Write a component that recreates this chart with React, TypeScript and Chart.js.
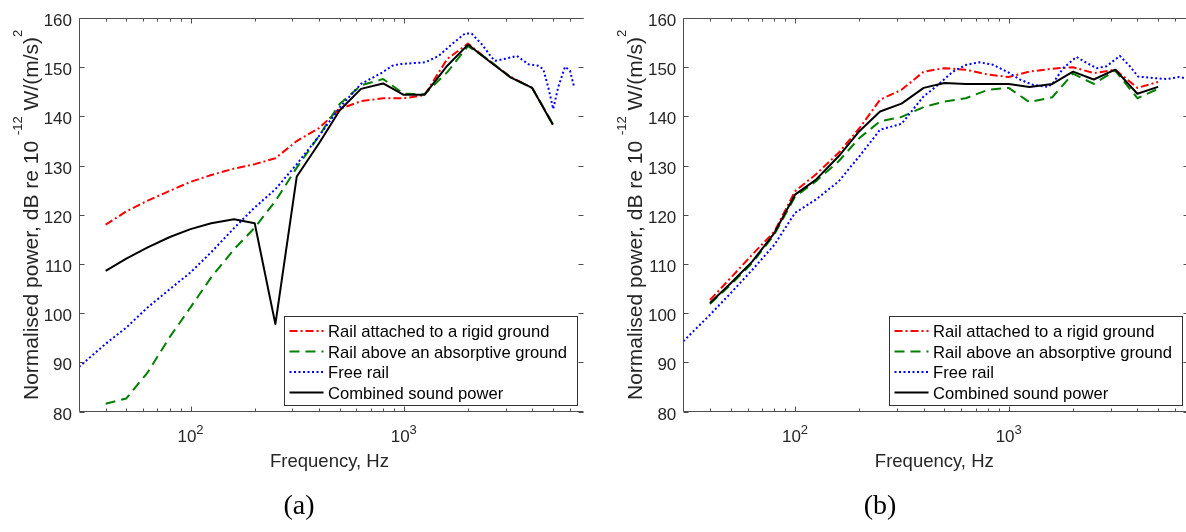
import React, { useEffect, useRef } from 'react';
import { Chart, registerables } from 'chart.js';

Chart.register(...registerables);

// ---------- data ----------
const bandFreqs = [40, 50, 63, 80, 100, 125, 160, 200, 250, 315, 400, 500, 630, 800, 1000, 1250, 1600, 2000, 2500, 3150, 4000, 5000];

// (a)
const rigidA = [118.0, 120.7, 122.9, 124.9, 126.7, 128.1, 129.4, 130.3, 131.5, 135.0, 137.6, 141.5, 143.1, 143.7, 143.7, 144.3, 151.7, 154.8, 151.4, 148.1, 145.8, 138.4];
const absorbA = [81.6, 82.7, 88.0, 95.2, 101.2, 107.3, 113.0, 117.4, 122.8, 129.6, 136.0, 142.5, 146.3, 147.6, 144.6, 144.5, 149.0, 154.3, 151.5, 148.0, 145.8, 138.5];
const combinedA = [108.6, 111.1, 113.4, 115.5, 117.1, 118.3, 119.1, 118.3, 97.8, 127.8, 134.5, 141.2, 145.6, 146.7, 144.4, 144.4, 150.3, 154.6, 151.3, 148.0, 145.8, 138.3];
const freeFreqA = [30, 40, 50, 63, 80, 100, 125, 160, 200, 250, 315, 400, 500, 630, 791, 882, 947, 1000, 1263, 1457, 1683, 1943, 2083, 2318, 2580, 2680, 2985, 3390, 3840, 4275, 4510, 4760, 5020, 5295, 5700, 6015, 6300];
const freeA = [89.1, 93.8, 97.1, 101.2, 104.9, 108.3, 112.4, 117.3, 121.5, 125.2, 130.3, 136.0, 141.8, 146.6, 148.9, 150.3, 150.6, 150.7, 151.0, 152.3, 154.7, 156.9, 156.8, 154.7, 152.0, 151.3, 151.7, 152.3, 150.6, 150.3, 149.6, 145.9, 141.5, 145.9, 150.1, 149.3, 145.9];

// (b)
const rigidB = [102.7, 107.2, 111.9, 116.6, 124.8, 128.2, 132.6, 137.6, 143.4, 145.4, 149.1, 149.8, 149.5, 148.5, 148.0, 149.1, 149.7, 150.0, 148.8, 149.5, 145.8, 147.0];
const absorbB = [101.9, 105.8, 110.2, 116.0, 123.7, 126.8, 130.9, 135.6, 139.0, 139.9, 141.9, 143.0, 143.7, 145.4, 145.8, 142.9, 143.9, 148.7, 146.6, 149.3, 143.7, 145.6];
const combinedB = [102.1, 106.1, 110.5, 116.3, 124.1, 127.1, 131.9, 137.0, 141.0, 142.6, 145.8, 146.8, 146.6, 146.6, 146.6, 146.0, 146.6, 149.1, 147.5, 149.5, 144.6, 146.0];
const freeFreqB = [30, 40, 50, 63, 80, 100, 125, 160, 200, 250, 315, 400, 458, 548, 634, 731, 844, 1000, 1127, 1301, 1529, 1613, 1798, 2076, 2312, 2576, 2870, 3313, 3689, 4036, 4750, 5487, 6280, 7000];
const freeB = [94.3, 99.7, 104.1, 108.8, 113.9, 120.4, 123.1, 126.8, 131.9, 137.3, 138.5, 144.1, 146.1, 149.1, 150.5, 151.0, 150.5, 148.9, 147.5, 146.4, 146.0, 146.8, 149.8, 152.1, 150.9, 149.8, 150.2, 152.3, 150.2, 148.1, 147.8, 147.6, 148.0, 147.6];

// axes
const X_MIN = 30;
const X_MAX = 7000;
const Y_MIN = 80;
const Y_MAX = 160;
const yTicks = [80, 90, 100, 110, 120, 130, 140, 150, 160];
const xMajorTicks = [100, 1000];
const xMajorExp = ['2', '3'];
const xMinorTicks = [40, 50, 60, 70, 80, 90, 200, 300, 400, 500, 600, 700, 800, 900, 2000, 3000, 4000, 5000, 6000, 7000];

const seriesLabels = ['Rail attached to a rigid ground', 'Rail above an absorptive ground', 'Free rail', 'Combined sound power'];
const seriesColors = ['#ff0000', '#008000', '#0000ff', '#000000'];
const seriesDash = [[8, 3, 2, 3], [10, 6], [2, 2.5], []];

const xTitle = 'Frequency, Hz';
const yTitleParts = [
  { t: 'Normalised power, dB re 10 ', sup: false },
  { t: '-12', sup: true },
  { t: ' W/(m/s)', sup: false },
  { t: '2', sup: true },
];

const SANS = '"Liberation Sans", Arial, Helvetica, sans-serif';
const AXIS_COLOR = '#4d4d4d';
const TEXT_COLOR = '#262626';

function pts(xs: number[], ys: number[]) {
  return xs.map((x, i) => ({ x, y: ys[i] }));
}

function drawRich(ctx: CanvasRenderingContext2D, parts: { t: string; size: number; dy: number }[], startX: number) {
  let x = startX;
  for (const p of parts) {
    ctx.font = `${p.size}px ${SANS}`;
    ctx.fillText(p.t, x, p.dy);
    x += ctx.measureText(p.t).width;
  }
}
function richWidth(ctx: CanvasRenderingContext2D, parts: { t: string; size: number; dy: number }[]) {
  let w = 0;
  for (const p of parts) {
    ctx.font = `${p.size}px ${SANS}`;
    w += ctx.measureText(p.t).width;
  }
  return w;
}

const matlabAxes = {
  id: 'matlabAxes',
  afterDatasetsDraw(chart: any) {
    const { ctx, chartArea: a } = chart;
    const xs = chart.scales.x;
    const ys = chart.scales.y;
    const L = Math.round(a.left) + 0.5;
    const R = Math.round(a.right) - 0.5;
    const T = Math.round(a.top) + 0.5;
    const B = Math.round(a.bottom) - 0.5;
    ctx.save();
    ctx.setLineDash([]);
    ctx.strokeStyle = AXIS_COLOR;
    ctx.lineWidth = 1;
    ctx.beginPath();
    ctx.moveTo(R, T);
    ctx.lineTo(L, T);
    ctx.lineTo(L, B);
    ctx.lineTo(R, B);
    for (const v of yTicks) {
      const py = Math.round(ys.getPixelForValue(v)) + 0.5;
      ctx.moveTo(L, py); ctx.lineTo(L + 5, py);
      ctx.moveTo(R, py); ctx.lineTo(R - 5, py);
    }
    for (const f of xMajorTicks) {
      const px = Math.round(xs.getPixelForValue(f)) + 0.5;
      ctx.moveTo(px, B); ctx.lineTo(px, B - 5);
      ctx.moveTo(px, T); ctx.lineTo(px, T + 5);
    }
    for (const f of xMinorTicks) {
      const px = Math.round(xs.getPixelForValue(f)) + 0.5;
      if (px > R) continue;
      ctx.moveTo(px, B); ctx.lineTo(px, B - 3);
      ctx.moveTo(px, T); ctx.lineTo(px, T + 3);
    }
    ctx.stroke();

    // y tick labels
    ctx.fillStyle = TEXT_COLOR;
    ctx.font = `17px ${SANS}`;
    ctx.textAlign = 'right';
    ctx.textBaseline = 'alphabetic';
    for (const v of yTicks) {
      const py = ys.getPixelForValue(v);
      ctx.fillText(String(v), a.left - 7, py + 8);
    }
    // x tick labels 10^n
    ctx.textAlign = 'left';
    xMajorTicks.forEach((f, i) => {
      const px = xs.getPixelForValue(f);
      const parts = [
        { t: '10', size: 17, dy: 0 },
        { t: xMajorExp[i], size: 13, dy: -8.5 },
      ];
      const w = richWidth(ctx, parts);
      ctx.save();
      ctx.translate(px - w / 2, a.bottom + 30.5);
      drawRich(ctx, parts, 0);
      ctx.restore();
    });
    // x title
    ctx.font = `18.5px ${SANS}`;
    ctx.textAlign = 'center';
    ctx.fillText(xTitle, (a.left + a.right) / 2 - 2, a.bottom + 55.5);
    // y title (rotated)
    ctx.textAlign = 'left';
    const yparts = yTitleParts.map((p) => ({ t: p.t, size: p.sup ? 13 : 21, dy: p.sup ? -16 : 0 }));
    const yw = richWidth(ctx, yparts);
    ctx.save();
    ctx.translate(a.left - 41.5, (a.top + a.bottom) / 2);
    ctx.rotate(-Math.PI / 2);
    drawRich(ctx, yparts, -yw / 2);
    ctx.restore();

    // legend box
    const lw = 293;
    const lh = 89;
    const lx = Math.round(a.right - 7 - lw) + 0.5;
    const ly = Math.round(a.bottom - 7 - lh) + 0.5;
    ctx.fillStyle = '#ffffff';
    ctx.fillRect(lx, ly, lw, lh);
    ctx.strokeStyle = '#333333';
    ctx.lineWidth = 1;
    ctx.strokeRect(lx, ly, lw, lh);
    ctx.font = `16.6px ${SANS}`;
    ctx.textAlign = 'left';
    seriesLabels.forEach((lab, i) => {
      const cy = ly + 14.5 + i * 20.5;
      ctx.save();
      ctx.strokeStyle = seriesColors[i];
      ctx.lineWidth = 2;
      ctx.setLineDash(seriesDash[i]);
      ctx.beginPath();
      ctx.moveTo(lx + 5, cy);
      ctx.lineTo(lx + 39, cy);
      ctx.stroke();
      ctx.restore();
      ctx.fillStyle = '#000000';
      ctx.fillText(lab, lx + 43.5, cy + 6);
    });
    ctx.restore();
  },
};

function makeDatasets(rigid: number[], absorb: number[], freeF: number[], free: number[], comb: number[]) {
  const vals = [pts(bandFreqs, rigid), pts(bandFreqs, absorb), pts(freeF, free), pts(bandFreqs, comb)];
  return vals.map((data, i) => ({
    label: seriesLabels[i],
    data,
    borderColor: seriesColors[i],
    backgroundColor: seriesColors[i],
    borderWidth: 2,
    borderDash: seriesDash[i],
    borderJoinStyle: 'round' as const,
    borderCapStyle: 'butt' as const,
    pointRadius: 0,
    tension: 0,
    fill: false,
    order: 3 - i,
  }));
}

function Panel(props: { left: number; padLeft: number; padRight: number; sets: any[] }) {
  const ref = useRef<HTMLCanvasElement>(null);
  useEffect(() => {
    if (!ref.current) return;
    const chart = new Chart(ref.current, {
      type: 'line',
      data: { datasets: props.sets },
      options: {
        animation: false,
        responsive: false,
        maintainAspectRatio: false,
        devicePixelRatio: 1,
        layout: { padding: { left: props.padLeft, right: props.padRight, top: 18, bottom: 120.3 } },
        plugins: { legend: { display: false }, tooltip: { enabled: false } },
        scales: {
          x: { type: 'logarithmic', min: X_MIN, max: X_MAX, display: false },
          y: { type: 'linear', min: Y_MIN, max: Y_MAX, display: false },
        },
      },
      plugins: [matlabAxes],
    } as any);
    return () => chart.destroy();
  }, []);
  return (
    <canvas
      ref={ref}
      width={600}
      height={532}
      style={{ position: 'absolute', left: props.left, top: 0, width: 600, height: 532 }}
    />
  );
}

export default function App() {
  const setsA = makeDatasets(rigidA, absorbA, freeFreqA, freeA, combinedA);
  const setsB = makeDatasets(rigidB, absorbB, freeFreqB, freeB, combinedB);
  const capStyle: React.CSSProperties = {
    position: 'absolute',
    top: 490,
    width: 100,
    textAlign: 'center',
    fontFamily: '"Liberation Serif", "Times New Roman", serif',
    fontSize: 28,
    lineHeight: '30px',
    color: '#000',
  };
  return (
    <div style={{ position: 'fixed', left: 0, top: 0, width: 1186, height: 532, overflow: 'hidden', background: '#fff' }}>
      <Panel left={0} padLeft={79} padRight={16} sets={setsA} />
      <Panel left={600} padLeft={83.3} padRight={10.7} sets={setsB} />
      <div style={{ ...capStyle, left: 249 }}>(a)</div>
      <div style={{ ...capStyle, left: 830 }}>(b)</div>
    </div>
  );
}
